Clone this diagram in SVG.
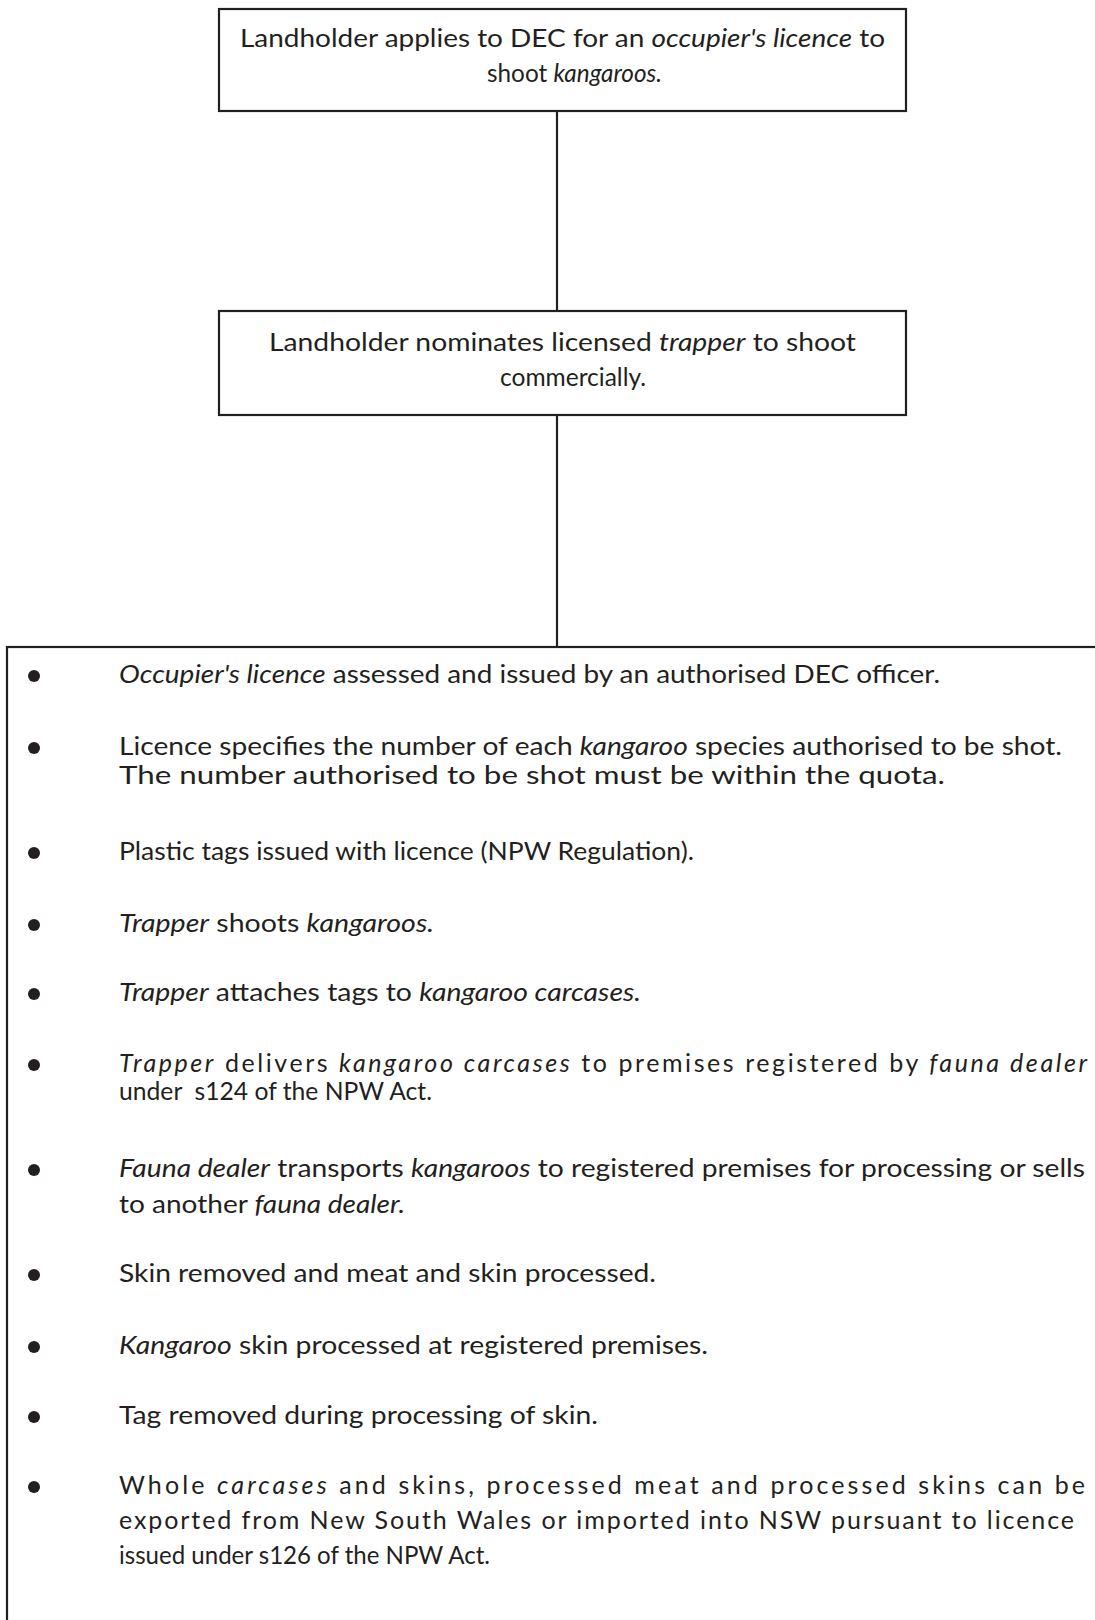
<svg xmlns="http://www.w3.org/2000/svg" width="1095" height="1620" viewBox="0 0 1095 1620">
<style>
.box{fill:#fff;stroke:#231f20;stroke-width:2.2}
.ln{stroke:#231f20;stroke-width:2.2;fill:none}
text{font-family:Lato,"Liberation Sans",sans-serif;font-size:25px;fill:#231f20}
.i{font-style:italic}
.b{fill:#231f20}
</style>
<rect width="1095" height="1620" fill="#fff"/>
<g id="connectors">
<line class="ln" x1="557" y1="111" x2="557" y2="311"/>
<line class="ln" x1="557" y1="415" x2="557" y2="647"/>
</g>
<g id="node1">
<rect class="box" x="219" y="9" width="687" height="102"/>
<text x="240" y="47" textLength="645" lengthAdjust="spacingAndGlyphs">Landholder applies to DEC for an <tspan class="i">occupier's licence</tspan> to</text>
<text x="487" y="82" textLength="175" lengthAdjust="spacingAndGlyphs">shoot <tspan class="i">kangaroos.</tspan></text>
</g>
<g id="node2">
<rect class="box" x="219" y="311" width="687" height="104"/>
<text x="269" y="351" textLength="587" lengthAdjust="spacingAndGlyphs">Landholder nominates licensed <tspan class="i">trapper</tspan> to shoot</text>
<text x="500" y="386" textLength="146" lengthAdjust="spacingAndGlyphs">commercially.</text>
</g>
<g id="node3">
<rect class="box" x="7" y="647" width="1110" height="1000"/>
<circle class="b" cx="34" cy="676" r="6"/>
<text x="119" y="683" textLength="821" lengthAdjust="spacingAndGlyphs"><tspan class="i">Occupier's licence</tspan> assessed and issued by an authorised DEC officer.</text>
<circle class="b" cx="34" cy="748" r="6"/>
<text x="119" y="755" textLength="943" lengthAdjust="spacingAndGlyphs">Licence specifies the number of each <tspan class="i">kangaroo</tspan> species authorised to be shot.</text>
<text x="119" y="784" textLength="826" lengthAdjust="spacingAndGlyphs">The number authorised to be shot must be within the quota.</text>
<circle class="b" cx="34" cy="853" r="6"/>
<text x="119" y="860" textLength="575" lengthAdjust="spacingAndGlyphs">Plastic tags issued with licence (NPW Regulation).</text>
<circle class="b" cx="34" cy="925" r="6"/>
<text x="119" y="932" textLength="315" lengthAdjust="spacingAndGlyphs"><tspan class="i">Trapper</tspan> shoots <tspan class="i">kangaroos.</tspan></text>
<circle class="b" cx="34" cy="994" r="6"/>
<text x="119" y="1001" textLength="522" lengthAdjust="spacingAndGlyphs"><tspan class="i">Trapper</tspan> attaches tags to <tspan class="i">kangaroo carcases.</tspan></text>
<circle class="b" cx="34" cy="1065" r="6"/>
<text x="119" y="1072" textLength="968" lengthAdjust="spacing"><tspan class="i">Trapper</tspan> delivers <tspan class="i">kangaroo carcases</tspan> to premises registered by <tspan class="i">fauna dealer</tspan></text>
<text x="119" y="1100" textLength="313" lengthAdjust="spacingAndGlyphs" xml:space="preserve">under  s124 of the NPW Act.</text>
<circle class="b" cx="34" cy="1170" r="6"/>
<text x="119" y="1177" textLength="966" lengthAdjust="spacingAndGlyphs"><tspan class="i">Fauna dealer</tspan> transports <tspan class="i">kangaroos</tspan> to registered premises for processing or sells</text>
<text x="119" y="1213" textLength="286" lengthAdjust="spacingAndGlyphs">to another <tspan class="i">fauna dealer.</tspan></text>
<circle class="b" cx="34" cy="1275" r="6"/>
<text x="119" y="1282" textLength="537" lengthAdjust="spacingAndGlyphs">Skin removed and meat and skin processed.</text>
<circle class="b" cx="34" cy="1347" r="6"/>
<text x="119" y="1354" textLength="589" lengthAdjust="spacingAndGlyphs"><tspan class="i">Kangaroo</tspan> skin processed at registered premises.</text>
<circle class="b" cx="34" cy="1417" r="6"/>
<text x="119" y="1424" textLength="479" lengthAdjust="spacingAndGlyphs">Tag removed during processing of skin.</text>
<circle class="b" cx="34" cy="1487" r="6"/>
<text x="119" y="1494" textLength="966" lengthAdjust="spacing">Whole <tspan class="i">carcases</tspan> and skins, processed meat and processed skins can be</text>
<text x="119" y="1529" textLength="955" lengthAdjust="spacing">exported from New South Wales or imported into NSW pursuant to licence</text>
<text x="119" y="1564" textLength="371" lengthAdjust="spacingAndGlyphs">issued under s126 of the NPW Act.</text>
</g>
</svg>
